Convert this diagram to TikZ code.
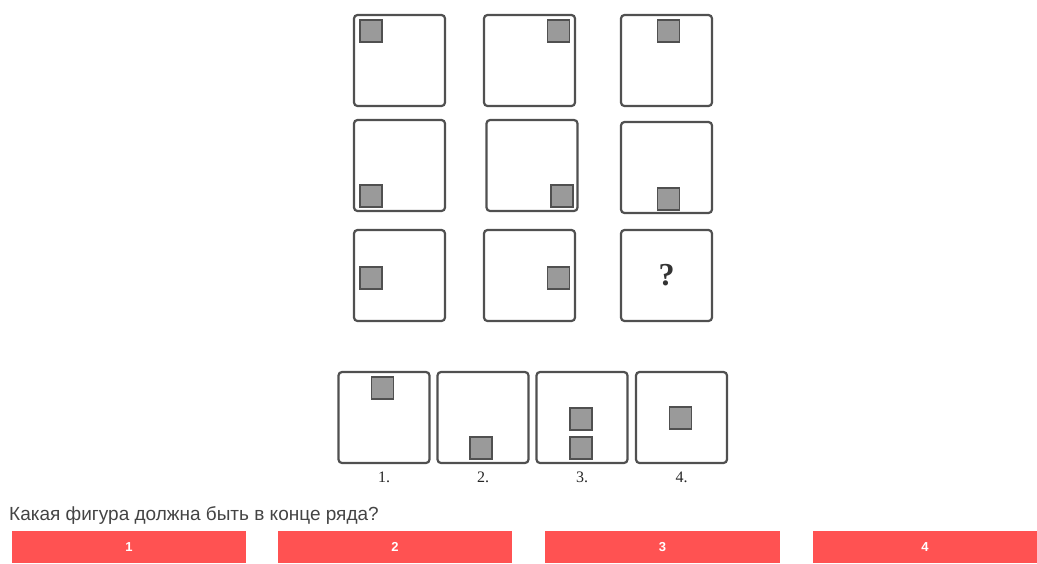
\documentclass[tikz,border=0pt]{standalone}
\usepackage{fontspec}
\setmainfont{Liberation Serif}
\newfontfamily\uifont{Liberation Sans}
\usetikzlibrary{positioning}
\definecolor{framegray}{HTML}{505050}
\definecolor{cellgray}{HTML}{9A9A9A}
\definecolor{btnred}{HTML}{FF5252}
\definecolor{textgray}{HTML}{444444}

\begin{document}
\begin{tikzpicture}[x=1pt, y=-1pt]
    \tikzset{frame/.style={rectangle, draw=framegray, line width=2.2pt, rounded corners=3.5pt, minimum size=91pt, inner sep=0pt}}
    \tikzset{cell/.style={rectangle, draw=framegray, fill=cellgray, line width=1.4pt, minimum size=22pt, inner sep=0pt}}
    \tikzset{button/.style={rectangle, fill=btnred, text=white, minimum height=32pt, inner sep=0pt, font=\uifont\bfseries\fontsize{13}{15}\selectfont}}
    \tikzset{numlabel/.style={font=\fontsize{16}{18}\selectfont, text=black!85}}

    \useasboundingbox (0,0) rectangle (1037,563);

    % Row 1
    \node [frame] (f11) at (399.5,60.5) {};
    \node [frame] (f12) at (529.5,60.5) {};
    \node [frame] (f13) at (666.5,60.5) {};
    \node [cell] (c11) at (371,31) {};
    \node [cell] (c12) at (558.5,31) {};
    \node [cell] (c13) at (668.5,31) {};

    % Row 2
    \node [frame] (f21) at (399.5,165.5) {};
    \node [frame] (f22) at (532,165.5) {};
    \node [frame] (f23) at (666.5,167.5) {};
    \node [cell] (c21) at (371,196) {};
    \node [cell] (c22) at (562,196) {};
    \node [cell] (c23) at (668.5,199) {};

    % Row 3
    \node [frame] (f31) at (399.5,275.5) {};
    \node [frame] (f32) at (529.5,275.5) {};
    \node [frame] (f33) at (666.5,275.5) {};
    \node [cell] (c31) at (371,278) {};
    \node [cell] (c32) at (558.5,278) {};
    \node [font=\bfseries\fontsize{32}{34}\selectfont, text=black!80] (quest) at (f33.center) {?};

    % Answers
    \node [frame] (a1) at (384,417.5) {};
    \node [frame] (a2) at (483,417.5) {};
    \node [frame] (a3) at (582,417.5) {};
    \node [frame] (a4) at (681.5,417.5) {};
    \node [cell] (ac1) at (382.5,388) {};
    \node [cell] (ac2) at (481,448) {};
    \node [cell] (ac3a) at (581,419) {};
    \node [cell] (ac3b) at (581,448) {};
    \node [cell] (ac4) at (680.5,418) {};
    \node [numlabel] (l1) at (384,477) {1.};
    \node [numlabel] (l2) at (483,477) {2.};
    \node [numlabel] (l3) at (582,477) {3.};
    \node [numlabel] (l4) at (681.5,477) {4.};

    % Question and buttons
    \node [anchor=west, inner sep=0pt, text=textgray, font=\uifont\fontsize{19}{21}\selectfont] (ask) at (9,515) {Какая фигура должна быть в конце ряда?};
    \node [button, minimum width=234pt] (b1) at (129,547) {1};
    \node [button, minimum width=234pt] (b2) at (395,547) {2};
    \node [button, minimum width=235pt] (b3) at (662.5,547) {3};
    \node [button, minimum width=224pt] (b4) at (925,547) {4};
\end{tikzpicture}
\end{document}
